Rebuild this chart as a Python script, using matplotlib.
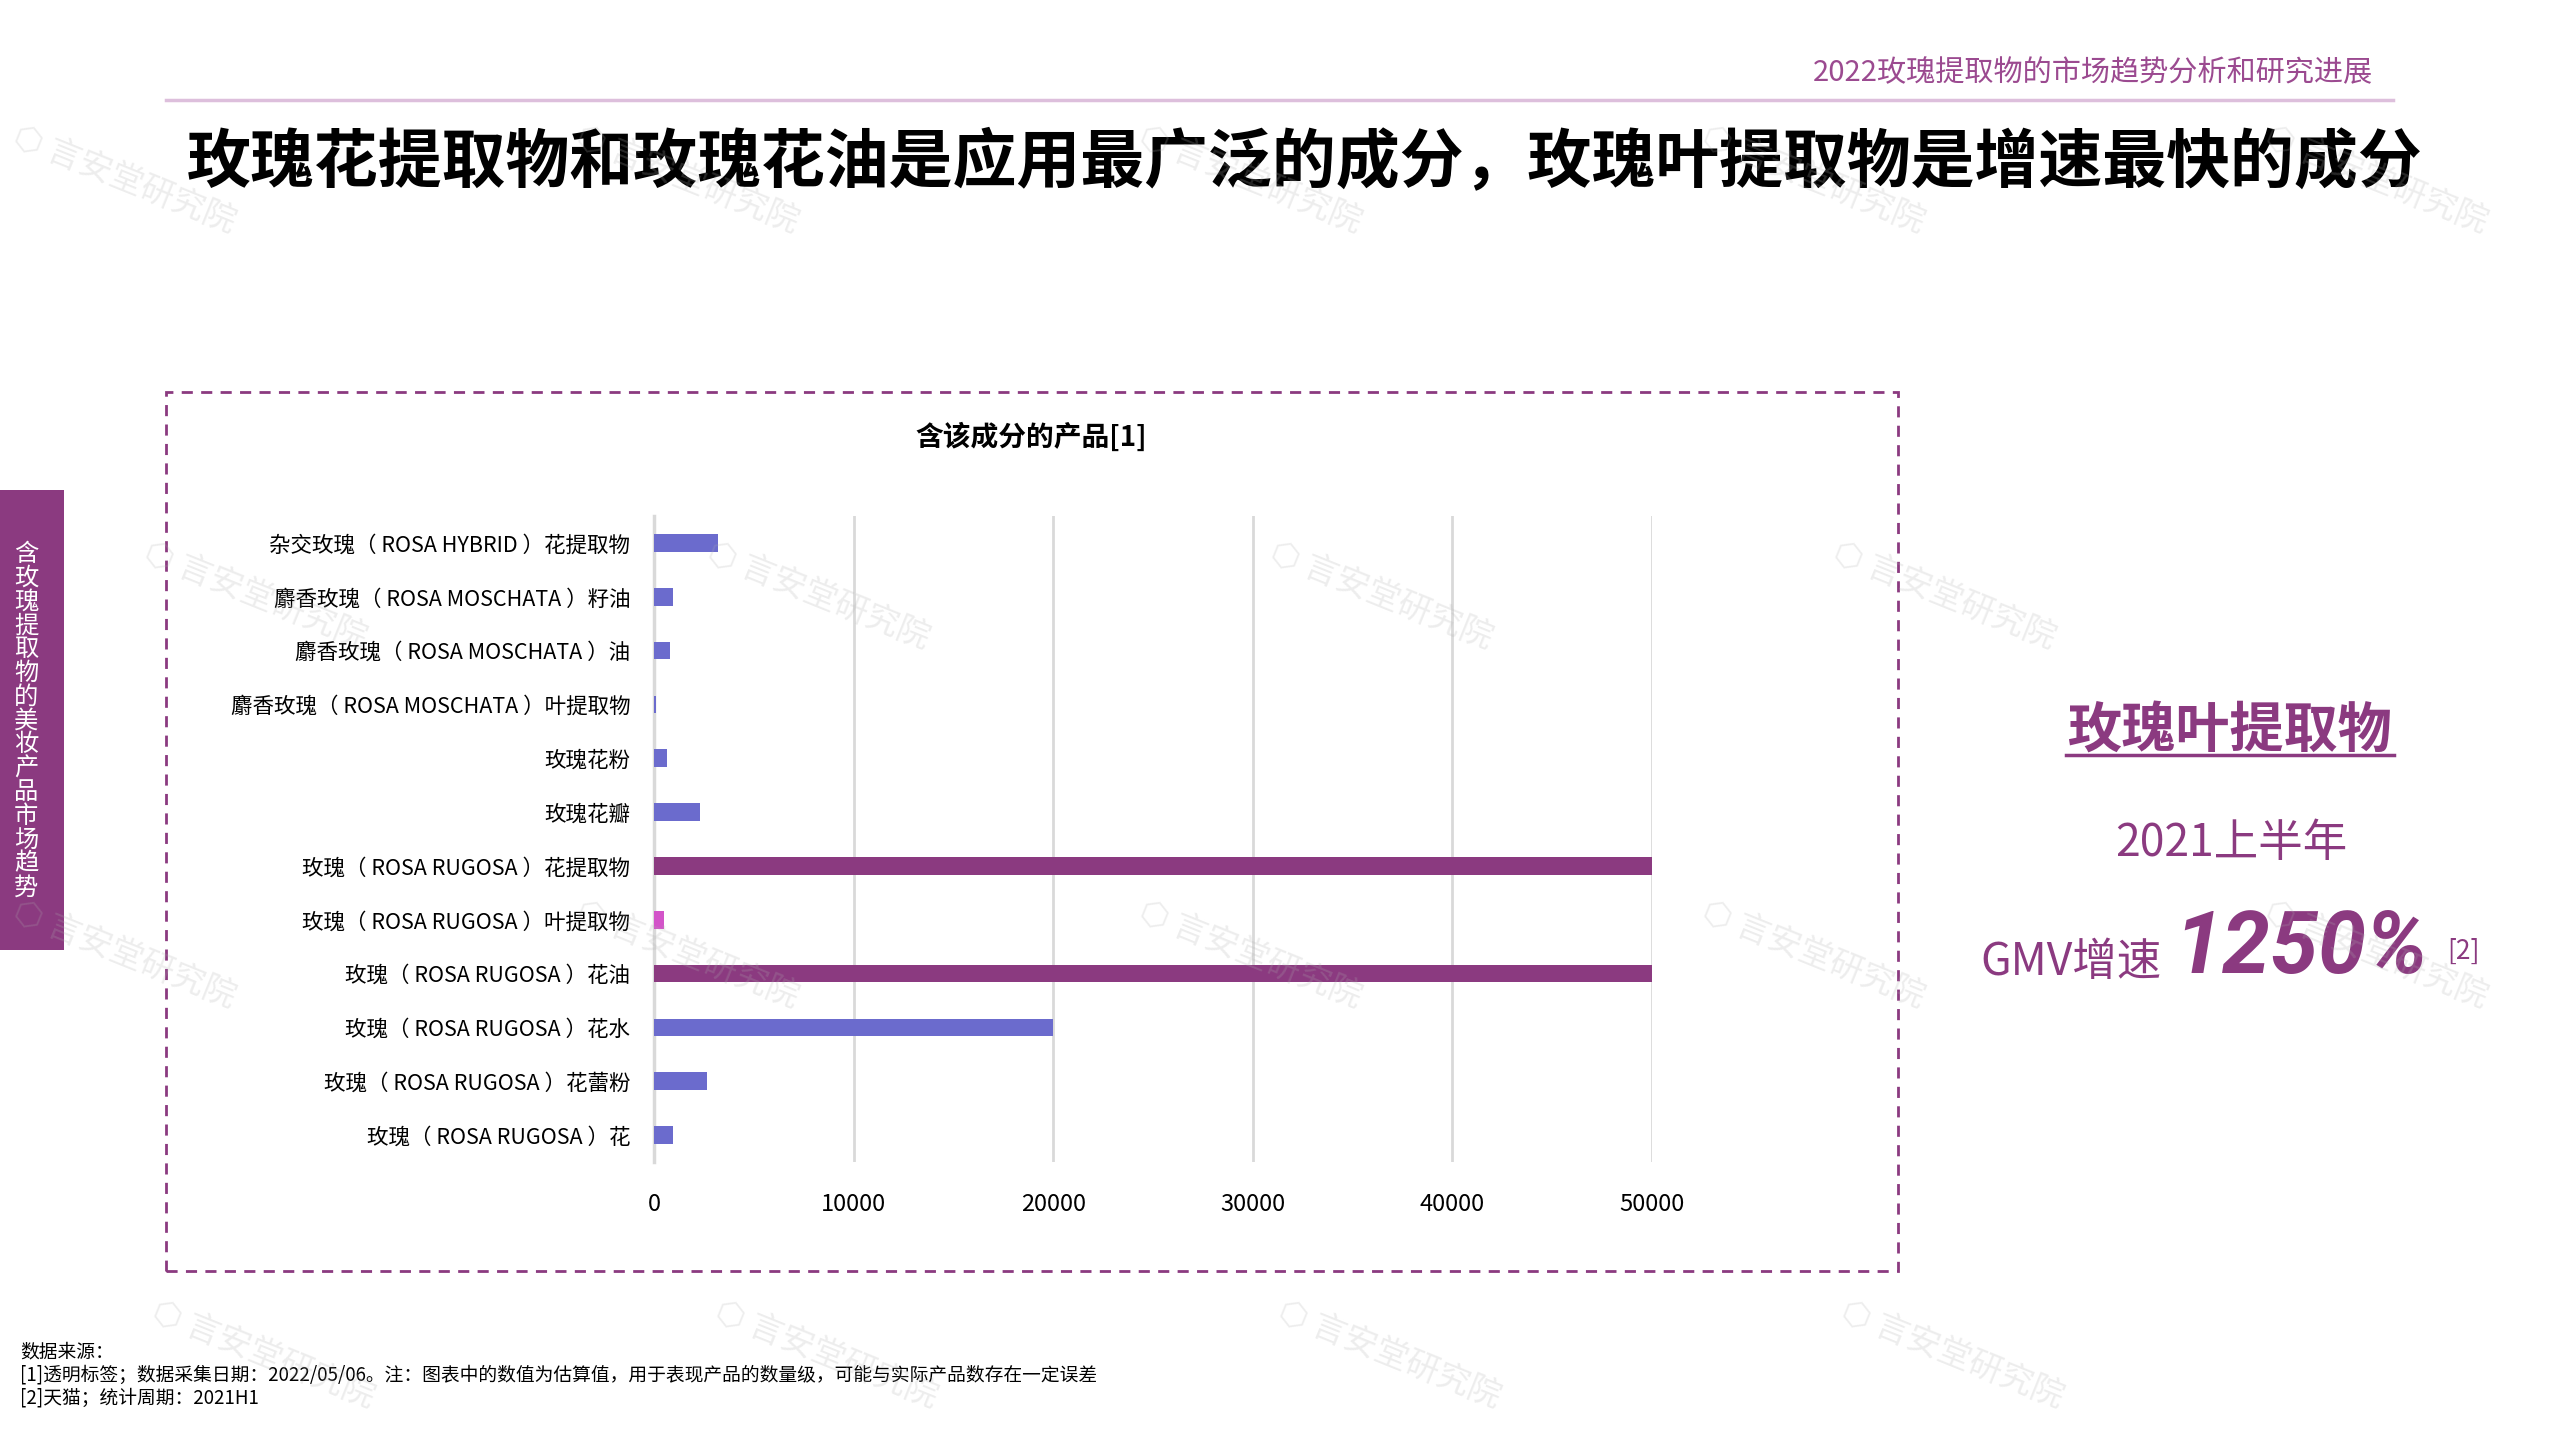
import matplotlib
matplotlib.use('Agg')
import matplotlib.pyplot as plt
from matplotlib.patches import Rectangle

plt.rcParams['font.family'] = ['Noto Sans CJK SC', 'DejaVu Sans']

# data
categories = [
    '杂交玫瑰（ ROSA HYBRID ）花提取物',
    '麝香玫瑰（ ROSA MOSCHATA ）籽油',
    '麝香玫瑰（ ROSA MOSCHATA ）油',
    '麝香玫瑰（ ROSA MOSCHATA ）叶提取物',
    '玫瑰花粉',
    '玫瑰花瓣',
    '玫瑰（ ROSA RUGOSA ）花提取物',
    '玫瑰（ ROSA RUGOSA ）叶提取物',
    '玫瑰（ ROSA RUGOSA ）花油',
    '玫瑰（ ROSA RUGOSA ）花水',
    '玫瑰（ ROSA RUGOSA ）花蕾粉',
    '玫瑰（ ROSA RUGOSA ）花',
]
products = [3200, 950, 800, 100, 670, 2290, 50000, 490, 50000, 20000, 2680, 950]
bar_kind = ['other', 'other', 'other', 'other', 'other', 'other',
            'top', 'leaf', 'top', 'other', 'other', 'other']
x_ticks = [0, 10000, 20000, 30000, 40000, 50000]

title = '玫瑰花提取物和玫瑰花油是应用最广泛的成分，玫瑰叶提取物是增速最快的成分'
header = '2022玫瑰提取物的市场趋势分析和研究进展'
side_tab = '含玫瑰提取物的美妆产品市场趋势'
chart_title = '含该成分的产品[1]'
notes = ['数据来源：',
         '[1]透明标签；数据采集日期：2022/05/06。注：图表中的数值为估算值，用于表现产品的数量级，可能与实际产品数存在一定误差',
         '[2]天猫；统计周期：2021H1']

PURPLE = '#8B3A80'
colors = {'other': '#6B6BCD', 'top': PURPLE, 'leaf': '#D354C9'}

W, H = 2559, 1439
fig = plt.figure(figsize=(W / 100, H / 100), dpi=100)
fig.patch.set_facecolor('white')


def fx(px):
    return px / W


def fy(py):
    return 1 - py / H


# watermarks (faint, on top like the original)
rows = [(110, 5, 5), (365, 85, 4), (585, 5, 5), (830, 90, 4)]
for ry, x0, n in rows:
    for k in range(n):
        xx = (x0 + k * 345) * 1.632
        fig.text(fx(xx), fy(ry * 1.632), '⬡ 言安堂研究院', fontsize=24, color='#B0B0B0',
                 alpha=0.22, rotation=-22, ha='left', va='center', zorder=10)

# header
fig.text(fx(2373), fy(73), header, fontsize=21, color='#9B4A90', ha='right', va='center')
fig.add_artist(plt.Line2D([fx(166), fx(2393)], [fy(100), fy(100)], color='#DDBFDC', lw=2.5))

# main title
fig.text(fx(1305), fy(162), title, fontsize=46, fontweight='bold', color='black',
         ha='center', va='center')

# side tab
fig.add_artist(Rectangle((0, fy(950)), fx(64), fy(490) - fy(950), transform=fig.transFigure,
                         facecolor=PURPLE, edgecolor='none'))
for i, ch in enumerate(side_tab):
    fig.text(fx(26), fy(554 + i * 23.8), ch, fontsize=17.5, color='white', ha='center', va='center')

# dashed frame
fig.add_artist(Rectangle((fx(166), fy(1271)), fx(1898 - 166), fy(392) - fy(1271),
                         transform=fig.transFigure, facecolor='none', edgecolor=PURPLE,
                         lw=2, linestyle=(0, (4, 3))))

fig.text(fx(1031), fy(437), chart_title, fontsize=20, fontweight='bold', ha='center', va='center')

ax = fig.add_axes([fx(654), fy(1162), fx(1652 - 654), fy(516) - fy(1162)])
y = list(range(len(categories)))
ax.barh(y, products, height=0.33, color=[colors[k] for k in bar_kind], zorder=3)
ax.set_ylim(-0.5, len(categories) - 0.5)
ax.invert_yaxis()
ax.set_xlim(0, 50000)
ax.set_yticks(y)
ax.set_yticklabels(categories, fontsize=15.5)
ax.set_xticks(x_ticks)
ax.set_xticklabels([str(v) for v in x_ticks], fontsize=17)
ax.tick_params(axis='both', length=0)
ax.tick_params(axis='y', pad=17)
ax.tick_params(axis='x', pad=22)
ax.grid(axis='x', color='#D9D9D9', lw=2, zorder=0)
for s in ['top', 'right', 'bottom']:
    ax.spines[s].set_visible(False)
ax.spines['left'].set_color('#D9D9D9')
ax.spines['left'].set_linewidth(2.5)
ax.patch.set_alpha(0)

# right panel
fig.text(fx(2229), fy(732), '玫瑰叶提取物', fontsize=39, fontweight='bold', color=PURPLE,
         ha='center', va='center')
fig.add_artist(plt.Line2D([fx(2066), fx(2394)], [fy(755), fy(755)], color=PURPLE, lw=2.5))
fig.text(fx(2231), fy(843), '2021上半年', fontsize=32, color=PURPLE, ha='center', va='center')
fig.text(fx(1980), fy(962), 'GMV增速', fontsize=32, color=PURPLE, ha='left', va='center')
fig.text(fx(2174), fy(950), '1250%', fontsize=62, fontweight='bold', fontstyle='italic',
         color=PURPLE, ha='left', va='center', family=['Roboto', 'DejaVu Sans'])
fig.text(fx(2447), fy(951), '[2]', fontsize=19, color=PURPLE, ha='left', va='center')

# notes
for i, line in enumerate(notes):
    fig.text(fx(20), fy(1352 + i * 23), line, fontsize=13.5, color='black', ha='left', va='center')

fig.savefig('out.png', dpi=100, facecolor='white')
